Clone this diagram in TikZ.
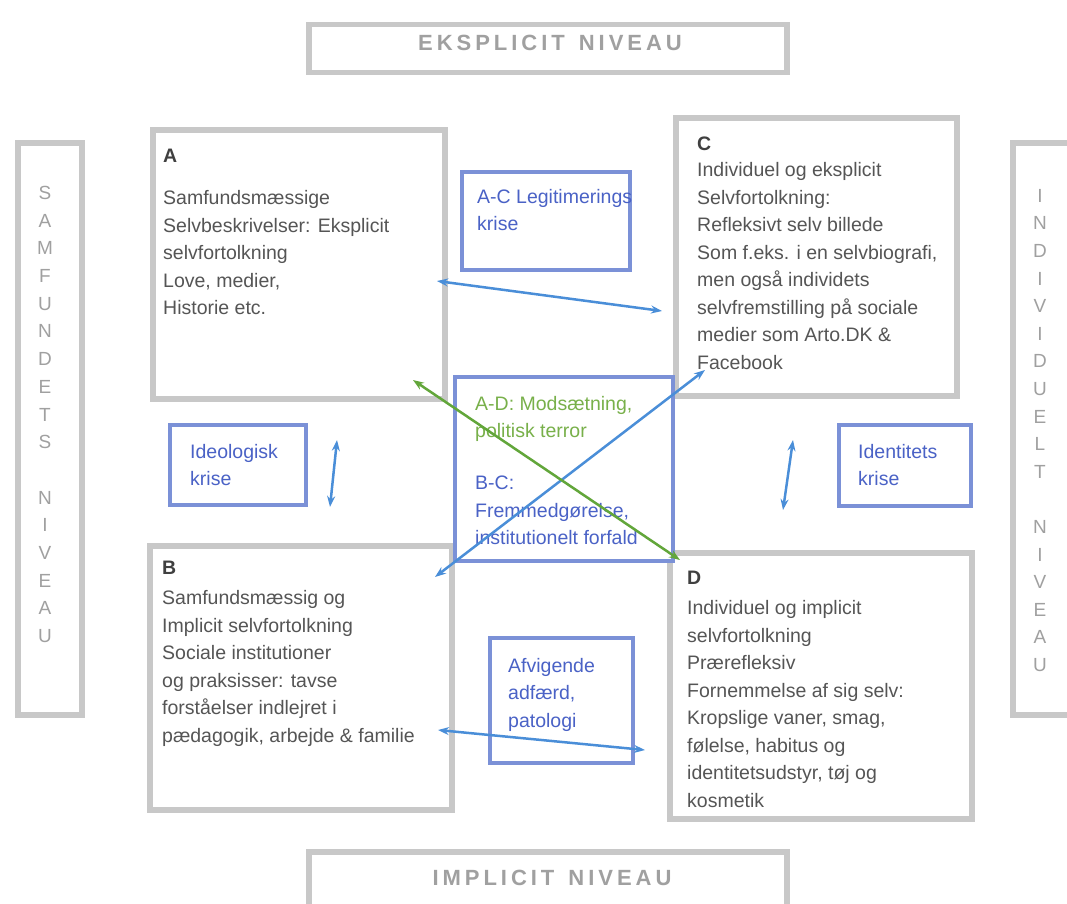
\documentclass[tikz,border=0pt]{standalone}
\usepackage{fontspec}
\setmainfont{Liberation Sans}
\newfontfamily\levelfont[LetterSpace=18]{Liberation Sans}
\usetikzlibrary{arrows.meta,positioning,calc}
\definecolor{fgray}{HTML}{C8C8C8}
\definecolor{ftext}{HTML}{555555}
\definecolor{fhead}{HTML}{404040}
\definecolor{flabel}{HTML}{A0A0A0}
\definecolor{fblue}{HTML}{7B91D7}
\definecolor{fbluetext}{HTML}{4A62C6}
\definecolor{farrow}{HTML}{4A8ED8}
\definecolor{fgreen}{HTML}{62A63A}
\definecolor{fgreentext}{HTML}{78B04A}

\begin{document}
\begin{tikzpicture}[x=1pt,y=-1pt,
  graybox/.style={draw=fgray,line width=5.5pt,fill=white,inner sep=0pt},
  bluebox/.style={draw=fblue,line width=3.5pt,fill=white,inner sep=0pt},
  bodytext/.style={anchor=north west,align=left,inner sep=0pt,text=ftext,font=\fontsize{19.5}{27.5}\selectfont},
  bluetext/.style={bodytext,text=fbluetext},
  leveltext/.style={text=flabel,inner sep=0pt,font=\levelfont\bfseries\fontsize{22}{26}\selectfont},
  sidetext/.style={anchor=north,align=center,inner sep=0pt,text=flabel,font=\fontsize{19}{27.7}\selectfont},
  link/.style={{Stealth[length=11pt,width=8pt]}-{Stealth[length=11pt,width=8pt]},line width=2.5pt,draw=farrow},
]
\useasboundingbox (0,0) rectangle (1067,903);
\clip (0,0) rectangle (1067,903);

% levels
\node[graybox,minimum width=478,minimum height=48] (top) at (548,48.5) {};
\node[leveltext] (toptxt) at (550,43) {EKSPLICIT\hspace{4pt} NIVEAU};
\node[graybox,minimum width=478,minimum height=56] (bot) at (548,880) {};
\node[leveltext] (bottxt) at (552,878) {IMPLICIT\hspace{4pt} NIVEAU};
\node[graybox,minimum width=64,minimum height=572] (left) at (50,429) {};
\node[sidetext] (lefttxt) at (45,186) {S\\A\\M\\F\\U\\N\\D\\E\\T\\S\\[27.7pt]N\\I\\V\\E\\A\\U};
\node[graybox,minimum width=62,minimum height=572] (right) at (1044,429) {};
\node[sidetext,font=\fontsize{19}{27.6}\selectfont] (righttxt) at (1040,189) {I\\N\\D\\I\\V\\I\\D\\U\\E\\L\\T\\[27.6pt]N\\I\\V\\E\\A\\U};

% quadrants
\node[graybox,minimum width=292,minimum height=269] (A) at (299,264.5) {};
\node[bodytext] (Atxt) at (163,149) {\textbf{\color{fhead}A}\\[14.5pt]
  Samfundsmæssige\\Selvbeskrivelser: Eksplicit\\selvfortolkning\\Love, medier,\\Historie etc.};
\node[graybox,minimum width=281,minimum height=278] (C) at (816.5,257) {};
\node[bodytext] (Ctxt) at (697,137) {\textbf{\color{fhead}C}\\[-1.5pt]
  Individuel og eksplicit\\Selvfortolkning:\\Refleksivt selv billede\\Som f.eks. i en selvbiografi,\\men også individets\\selvfremstilling på sociale\\medier som Arto.DK \&\\Facebook};
\node[graybox,minimum width=302,minimum height=264] (B) at (301,678) {};
\node[bodytext] (Btxt) at (162,561) {\textbf{\color{fhead}B}\\[2.5pt]
  Samfundsmæssig og\\Implicit selvfortolkning\\Sociale institutioner\\og praksisser: tavse\\forståelser indlejret i\\pædagogik, arbejde \& familie};
\node[graybox,minimum width=302,minimum height=266] (D) at (821,686) {};
\node[bodytext] (Dtxt) at (687,571) {\textbf{\color{fhead}D}\\[2.5pt]
  Individuel og implicit\\selvfortolkning\\Prærefleksiv\\Fornemmelse af sig selv:\\Kropslige vaner, smag,\\følelse, habitus og\\identitetsudstyr, tøj og\\kosmetik};

% crises
\node[bluebox,minimum width=168,minimum height=98] (AC) at (546,221) {};
\node[bluetext] (ACtxt) at (477,189) {A-C Legitimerings\\krise};
\node[bluebox,minimum width=218,minimum height=184] (mid) at (564,469) {};
\node[bluetext,text=fgreentext] (ADtxt) at (475,396) {A-D: Modsætning,\\politisk terror};
\node[bluetext] (BCtxt) at (475,476) {B-C:\\Fremmedgørelse,\\institutionelt forfald};
\node[bluebox,minimum width=136,minimum height=80] (ideo) at (238,465) {};
\node[bluetext] (ideotxt) at (190,444) {Ideologisk\\krise};
\node[bluebox,minimum width=132,minimum height=81] (ident) at (905,465.5) {};
\node[bluetext] (identtxt) at (858,444) {Identitets\\krise};
\node[bluebox,minimum width=143,minimum height=125] (afv) at (561.5,700.5) {};
\node[bluetext] (afvtxt) at (508,658) {Afvigende\\adfærd,\\patologi};

% links
\coordinate (acA) at (437,281);
\coordinate (acC) at (662,311);
\coordinate (bcB) at (435,577);
\coordinate (bcC) at (705,370);
\coordinate (adA) at (413,380);
\coordinate (adD) at (680,560);
\coordinate (abA) at (337,440);
\coordinate (abB) at (330,507);
\coordinate (cdC) at (793,440);
\coordinate (cdD) at (783,510);
\coordinate (bdB) at (438,730);
\coordinate (bdD) at (645,750);
\draw[link] (acA) -- (acC);
\draw[link] (bcB) -- (bcC);
\draw[link,draw=fgreen] (adA) -- (adD);
\draw[link] (abA) -- (abB);
\draw[link] (cdC) -- (cdD);
\draw[link] (bdB) -- (bdD);
\end{tikzpicture}
\end{document}
